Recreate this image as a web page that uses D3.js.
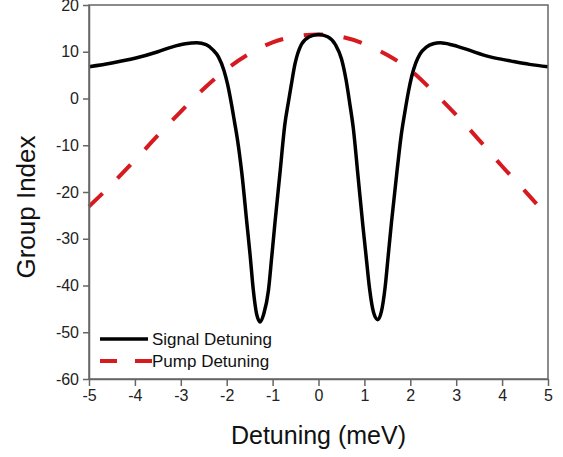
<!DOCTYPE html>
<html>
<head>
<meta charset="utf-8">
<script src="https://d3js.org/d3.v7.min.js"></script>
<style>
  body { margin: 0; background: #fff; }
  svg { display: block; font-family: Arial, "Liberation Sans", sans-serif; }
</style>
</head>
<body>
<svg id="drawing_region"></svg>
<script>
// values
const signal_x = [-5, -4.5, -4, -3.5, -3.2, -2.9, -2.65, -2.45, -2.3, -2.18, -2.06, -1.98, -1.9, -1.83, -1.77,
    -1.67, -1.56, -1.49, -1.42, -1.35, -1.27, -1.19, -1.09, -1.02, -0.95, -0.84, -0.73, -0.66, -0.6, -0.51,
    -0.37, -0.2, 0, 0.2, 0.37, 0.5, 0.6, 0.68, 0.76, 0.86, 0.97, 1.04, 1.11, 1.2, 1.29, 1.37, 1.45, 1.52,
    1.59, 1.7, 1.8, 1.88, 1.96, 2.03, 2.12, 2.21, 2.35, 2.5, 2.65, 2.9, 3.2, 3.74, 4.2, 4.6, 5];
const signal_y = [6.8, 7.6, 8.6, 10.0, 11.0, 11.7, 11.9, 11.5, 10.4, 8.9, 6.0, 3.0, -1.0, -5.0, -8.5,
    -16, -26.7, -33.5, -41, -46, -47.8, -46, -41, -34, -26.7, -16, -5.3, -1.0, 2.5, 7.5,
    11.6, 13.2, 13.7, 13.2, 11.5, 8.5, 4.0, -1.0, -6.5, -16.5, -27.5, -34, -40.5, -45.8, -47.3, -45.6, -40.5, -33.5,
    -26.5, -16.5, -8.0, -3.0, 1.5, 4.7, 7.6, 9.5, 11.0, 11.7, 11.9, 11.5, 10.6, 8.9, 8.0, 7.3, 6.8];

const pump_x = [-5, -4.5, -4, -3.5, -3, -2.5, -2, -1.5, -1, -0.5, 0, 0.5, 1, 1.5, 2, 2.5, 3, 3.5, 4, 4.5, 5];
const pump_y = [-23.1, -18.3, -13.2, -7.9, -2.8, 2.1, 6.3, 9.6, 12.0, 13.3, 13.7, 13.2, 11.7, 9.3, 6.1, 1.5,
    -3.5, -8.9, -14.5, -19.8, -25.3];

const x_ticks = [-5, -4, -3, -2, -1, 0, 1, 2, 3, 4, 5];
const y_ticks = [-60, -50, -40, -30, -20, -10, 0, 10, 20];
const series_names = ["Signal Detuning", "Pump Detuning"];
const series_colors = ["#000000", "#d71920"];

class LineChart {

    constructor( config ) {
        this.config = config;
        this.init();
    }

    init() {
        let self = this;

        self.svg = d3.select( self.config.parent )
            .attr('width', self.config.width)
            .attr('height', self.config.height);

        self.chart = self.svg.append('g')
            .attr('transform', `translate(${self.config.margin.left}, ${self.config.margin.top})`);

        self.inner_width = self.config.width - self.config.margin.left - self.config.margin.right;
        self.inner_height = self.config.height - self.config.margin.top - self.config.margin.bottom;

        self.xscale = d3.scaleLinear()
            .domain([-5, 5])
            .range([0, self.inner_width]);

        self.yscale = d3.scaleLinear()
            .domain([-60, 20])
            .range([self.inner_height, 0]);

        // plain hyphen for negatives, like the original
        self.xaxis = d3.axisBottom( self.xscale )
            .tickValues(x_ticks)
            .tickFormat(d => String(d))
            .tickSize(7)
            .tickPadding(4)
            .tickSizeOuter(0);

        self.yaxis = d3.axisLeft( self.yscale )
            .tickValues(y_ticks)
            .tickFormat(d => String(d))
            .tickSize(6)
            .tickPadding(4)
            .tickSizeOuter(0);
    }

    render() {
        let self = this;

        const line = d3.line()
            .x(d => self.xscale(d[0]))
            .y(d => self.yscale(d[1]))
            .curve(d3.curveMonotoneX);

        const signal = signal_x.map((x, i) => [x, signal_y[i]]);
        const pump = pump_x.map((x, i) => [x, pump_y[i]]);

        self.chart.append('path')
            .datum(pump)
            .attr('d', line)
            .attr('fill', 'none')
            .attr('stroke', series_colors[1])
            .attr('stroke-width', 4)
            .attr('stroke-dasharray', '19,21');

        self.chart.append('path')
            .datum(signal)
            .attr('d', line)
            .attr('fill', 'none')
            .attr('stroke', series_colors[0])
            .attr('stroke-width', 3.5)
            .attr('stroke-linejoin', 'round');

        // frame
        self.chart.append('rect')
            .attr('width', self.inner_width)
            .attr('height', self.inner_height)
            .attr('fill', 'none')
            .attr('stroke', '#666')
            .attr('stroke-width', 1.5);

        const xg = self.chart.append('g')
            .attr('transform', `translate(0, ${self.inner_height})`)
            .call( self.xaxis );
        const yg = self.chart.append('g')
            .call( self.yaxis );

        [xg, yg].forEach(g => {
            g.select('.domain').attr('stroke', '#666').attr('stroke-width', 1.5);
            g.selectAll('.tick line').attr('stroke', '#666').attr('stroke-width', 1.5);
            g.selectAll('.tick text')
                .attr('fill', '#222')
                .style('font-size', '16px')
                .style('font-family', 'Arial, "Liberation Sans", sans-serif');
        });

        // legend
        const legend = self.chart.append('g');
        series_names.forEach((name, i) => {
            const ly = 339 - self.config.margin.top + i * 22;
            legend.append('line')
                .attr('x1', 11).attr('x2', i == 0 ? 59 : 63)
                .attr('y1', ly).attr('y2', ly)
                .attr('stroke', series_colors[i])
                .attr('stroke-width', i == 0 ? 3.5 : 4)
                .attr('stroke-dasharray', i == 0 ? null : '17,18');
            legend.append('text')
                .attr('x', 63)
                .attr('y', ly + 6)
                .style('font-size', '17px')
                .attr('fill', '#111')
                .text(name);
        });

        // axis titles
        self.svg.append('text')
            .attr('x', self.config.margin.left + self.inner_width / 2)
            .attr('y', 444)
            .attr('text-anchor', 'middle')
            .style('font-size', '25px')
            .attr('fill', '#111')
            .text('Detuning (meV)');

        self.svg.append('text')
            .attr('transform', 'translate(35, 207) rotate(-90)')
            .attr('text-anchor', 'middle')
            .style('font-size', '26px')
            .attr('fill', '#111')
            .text('Group Index');
    }
}

const chart = new LineChart({
    parent: '#drawing_region',
    width: 563,
    height: 457,
    margin: {top: 5, right: 15, bottom: 78, left: 89}
});
chart.render();
</script>
</body>
</html>
